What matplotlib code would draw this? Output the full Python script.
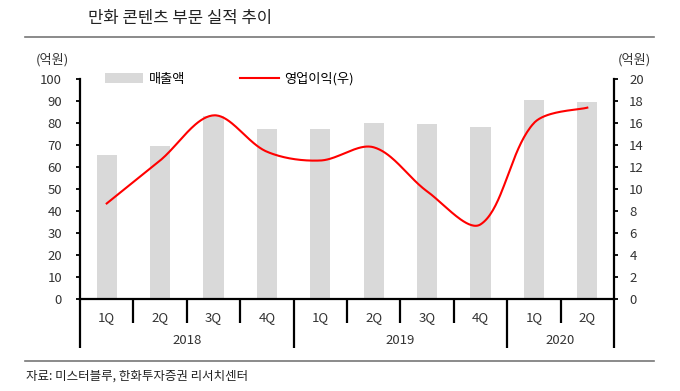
import numpy as np
import matplotlib
matplotlib.use("Agg")
import matplotlib.pyplot as plt
from matplotlib.lines import Line2D
from matplotlib.patches import Patch
import matplotlib.transforms as mtransforms

plt.rcParams['font.family'] = ['Noto Sans CJK KR', 'DejaVu Sans']

quarters = ["1Q", "2Q", "3Q", "4Q", "1Q", "2Q", "3Q", "4Q", "1Q", "2Q"]
years = ["2018", "2019", "2020"]
year_counts = [4, 4, 2]
revenue = [65.5, 69.4, 83, 77.4, 77.3, 80, 79.4, 78.2, 90.6, 89.5]
op_profit = [8.7, 12.6, 16.7, 13.4, 12.6, 13.8, 9.8, 6.8, 16.0, 17.4]

title = "만화 콘텐츠 부문 실적 추이"
source = "자료: 미스터블루, 한화투자증권 리서치센터"
unit = "(억원)"
label_rev = "매출액"
label_op = "영업이익(우)"

W, H = 680, 391
fig = plt.figure(figsize=(W / 100, H / 100), dpi=100)
ax = fig.add_axes([80 / W, 1 - 299.3 / H, 534 / W, 220.3 / H])
ax2 = ax.twinx()

x = np.arange(len(quarters))
ax.bar(x, revenue, width=0.375, color="#D9D9D9", zorder=1)
ax.set_xlim(-0.5, len(quarters) - 0.5)
ax.set_ylim(0, 100)
ax.set_yticks(np.arange(0, 101, 10))
ax2.set_ylim(0, 20)
ax2.set_yticks(np.arange(0, 21, 2))


def smooth(xs, ys, sxf, syf, n=40):
    # Excel-like smoothed line: Bezier segments, control lengths weighted by
    # the on-screen lengths of neighbouring segments
    P = np.column_stack([np.asarray(xs, float) * sxf, np.asarray(ys, float) * syf])
    m = len(P)
    T = np.zeros_like(P)
    for i in range(m):
        a = P[max(i - 1, 0)]
        b = P[min(i + 1, m - 1)]
        T[i] = b - a
    outx, outy = [], []
    for i in range(m - 1):
        p1, p2 = P[i], P[i + 1]
        d12 = np.linalg.norm(p2 - p1)
        d01 = np.linalg.norm(p1 - P[i - 1]) if i > 0 else d12
        d23 = np.linalg.norm(P[i + 2] - p2) if i + 2 < m else d12
        c1 = p1 + T[i] * d12 / (d01 + d12) / 3
        c2 = p2 - T[i + 1] * d12 / (d12 + d23) / 3
        t = np.linspace(0, 1, n)[:, None]
        B = (1 - t) ** 3 * p1 + 3 * (1 - t) ** 2 * t * c1 + 3 * (1 - t) * t ** 2 * c2 + t ** 3 * p2
        outx.extend(B[:, 0] / sxf)
        outy.extend(B[:, 1] / syf)
    return np.array(outx), np.array(outy)


sx, sy = smooth(x, op_profit, 53.4, 11.0)
ax2.plot(sx, sy, color="#FF0000", lw=1.5, zorder=3)

tick_color = "#333333"
for a in (ax, ax2):
    for s in a.spines.values():
        s.set_visible(False)
    a.tick_params(axis="x", length=0, labelbottom=False)
ax.spines["left"].set_visible(True)
ax.spines["left"].set_linewidth(1.6)
ax.spines["bottom"].set_visible(True)
ax.spines["bottom"].set_linewidth(1.6)
ax2.spines["right"].set_visible(True)
ax2.spines["right"].set_linewidth(1.6)
ax.tick_params(axis="y", direction="out", length=3, width=1.3, labelsize=9.5,
               colors="black", labelcolor=tick_color, pad=10)
ax2.tick_params(axis="y", direction="out", length=3, width=1.3, labelsize=9.5,
                colors="black", labelcolor=tick_color, pad=8)
ax.set_xticks([])
ax2.set_xticks([])

trans = mtransforms.blended_transform_factory(ax.transData, ax.transAxes)
q_bottom = -(322.7 - 299.3) / 220.3
y_bottom = -(347.7 - 299.3) / 220.3
boundaries = np.cumsum([0] + year_counts) - 0.5
for b in np.arange(0.5, len(quarters) - 1, 1.0):
    if not np.any(np.isclose(boundaries, b)):
        ax.plot([b, b], [0, q_bottom], transform=trans, color="black", lw=1.6,
                clip_on=False, solid_capstyle="butt")
for b in boundaries:
    ax.plot([b, b], [0, y_bottom], transform=trans, color="black", lw=1.6,
            clip_on=False, solid_capstyle="butt")

for xi, q in zip(x, quarters):
    ax.text(xi, -(317.7 - 299.3) / 220.3, q, transform=trans, ha="center",
            va="center", fontsize=9.5, color=tick_color)
for i, yr in enumerate(years):
    c = (boundaries[i] + boundaries[i + 1]) / 2
    ax.text(c, -(341 - 299.3) / 220.3, yr, transform=trans, ha="center",
            va="center", fontsize=9.5, color=tick_color)

fig.text(52 / W, 1 - 60 / H, unit, ha="center", va="center", fontsize=9.5, color=tick_color)
fig.text(634 / W, 1 - 60 / H, unit, ha="center", va="center", fontsize=9.5, color=tick_color)

fig.text(180 / W, 1 - 18 / H, title, ha="center", va="center", fontsize=12, color="#222222")
fig.add_artist(Line2D([25 / W, 654 / W], [1 - 37 / H, 1 - 37 / H], color="#777777", lw=1.2))
fig.add_artist(Line2D([25 / W, 654 / W], [1 - 361 / H, 1 - 361 / H], color="#777777", lw=1.2))
fig.text(26 / W, 1 - 376 / H, source, ha="left", va="center", fontsize=9, color="#222222")

handles = [Patch(facecolor="#D9D9D9", edgecolor="none", label=label_rev),
           Line2D([0], [0], color="#FF0000", lw=1.5, label=label_op)]
fig.legend(handles=handles, loc="center left", bbox_to_anchor=(105 / W, 1 - 79 / H),
           ncol=2, frameon=False, fontsize=9.5, handlelength=2.9, handleheight=0.7,
           handletextpad=0.4, columnspacing=4.2, borderpad=0, borderaxespad=0)

fig.savefig("out.png", dpi=100, facecolor="white")
